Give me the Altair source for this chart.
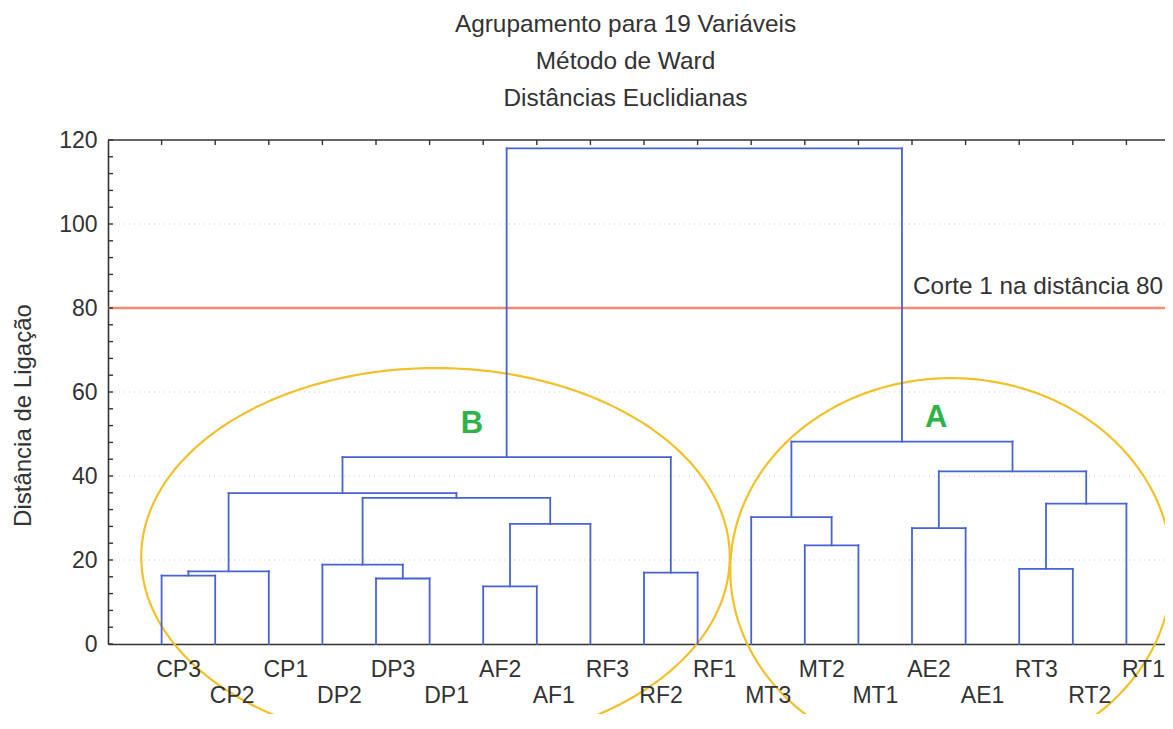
import altair as alt
import pandas as pd
import numpy as np

# ---------------- data ----------------
leaves = ["CP3", "CP2", "CP1", "DP2", "DP3", "DP1", "AF2", "AF1", "RF3", "RF2",
          "RF1", "MT3", "MT2", "MT1", "AE2", "AE1", "RT3", "RT2", "RT1"]
label_row = [0, 1, 0, 1, 0, 1, 0, 1, 0, 1, 0, 1, 0, 1, 0, 1, 0, 1, 0]  # 0 = upper, 1 = lower

# agglomeration steps: node n{k} = merge_left[k-1] + merge_right[k-1]
merge_left = ["CP3", "n1", "DP3", "DP2", "AF2", "n5", "n4", "n2", "RF2", "n8",
              "MT2", "MT3", "AE2", "RT3", "n14", "n13", "n12", "n10"]
merge_right = ["CP2", "CP1", "DP1", "n3", "AF1", "RF3", "n6", "n7", "RF1", "n9",
               "MT1", "n11", "AE1", "RT2", "RT1", "n15", "n16", "n17"]
merge_height = [16.3, 17.3, 15.6, 18.9, 13.7, 28.6, 34.8, 35.9, 17.0, 44.5,
                23.5, 30.2, 27.6, 17.9, 33.4, 41.1, 48.2, 118.0]

y_label_values = [0, 20, 40, 60, 80, 100, 120]
y_minor_ticks = list(range(0, 121, 4))
grid_values = [20, 40, 60, 80, 100]

cut_value = 80
cut_text = "Corte 1 na distância 80"
cut_text_x = 15.02

cluster_names = ["B", "A"]
cluster_label_x = [6.79, 15.45]
cluster_label_y = [52.3, 53.7]
cluster_cx = [6.11, 15.73]
cluster_rx = [5.49, 4.12]
cluster_cy = [20.7, 17.6]
cluster_ry = [45.0, 45.7]

title_lines = ["Agrupamento para 19 Variáveis", "Método de Ward", "Distâncias Euclidianas"]
y_title = "Distância de Ligação"

# ---------------- layout ----------------
W = 1057
H = 504
XMAX = 19.72
FONT = "Liberation Sans"
TXT = "#333333"
BLUE = "#4763d4"

# ---------------- build tables ----------------
pos = {name: (i + 1, 0.0) for i, name in enumerate(leaves)}
segs = []
for k, (l, r, h) in enumerate(zip(merge_left, merge_right, merge_height)):
    xl, hl = pos[l]
    xr, hr = pos[r]
    segs.append(dict(x=xl, x2=xr, y=h, y2=h))
    segs.append(dict(x=xl, x2=xl, y=hl, y2=h))
    segs.append(dict(x=xr, x2=xr, y=hr, y2=h))
    pos[f"n{k + 1}"] = ((xl + xr) / 2, h)
seg_df = pd.DataFrame(segs)

leaf_df = pd.DataFrame({"x": list(range(1, len(leaves) + 1)), "name": leaves, "row": label_row})

t = np.linspace(0, 2 * np.pi, 361)
ell_rows = []
for n, cx, rx, cy, ry in zip(cluster_names, cluster_cx, cluster_rx, cluster_cy, cluster_ry):
    for i, tt in enumerate(t):
        ell_rows.append(dict(g=n, i=i, x=cx + rx * np.cos(tt), y=cy + ry * np.sin(tt)))
ell_df = pd.DataFrame(ell_rows)

clab_df = pd.DataFrame({"name": cluster_names, "x": cluster_label_x, "y": cluster_label_y})

xscale = alt.Scale(domain=[0, XMAX], nice=False, zero=False)
yscale = alt.Scale(domain=[0, 120], nice=False, zero=False)
xaxis = alt.Axis(labels=False, ticks=False, grid=False, title=None,
                 domainColor=TXT, domainWidth=1.6)
yaxis = alt.Axis(values=y_label_values, ticks=False, grid=False, labelPadding=11,
                 labelFontSize=23, labelFont=FONT, labelColor=TXT,
                 domainColor=TXT, domainWidth=1.6,
                 title=y_title, titleFont=FONT, titleFontSize=24, titleFontWeight="normal",
                 titleColor=TXT, titleX=-85, titleY=275, titleBaseline="middle")

def X(field="x"):
    return alt.X(f"{field}:Q", scale=xscale, axis=xaxis)

def Y(field="y"):
    return alt.Y(f"{field}:Q", scale=yscale, axis=yaxis)

grid = alt.Chart(pd.DataFrame({"y": grid_values})).mark_rule(
    color="#cfcfcf", strokeWidth=1, strokeDash=[1, 4]).encode(y=Y())

cut = alt.Chart(pd.DataFrame({"y": [cut_value]})).mark_rule(
    color="#f48a72", strokeWidth=2.5).encode(y=Y())

ellipses = alt.Chart(ell_df).mark_line(color="#f3c02a", strokeWidth=2.2, clip=False).encode(
    x=X(), y=Y(), detail="g:N", order="i:Q")

dendro = alt.Chart(seg_df).mark_rule(color=BLUE, strokeWidth=1.8, strokeCap="square").encode(
    x=X(), x2="x2:Q", y=Y(), y2="y2:Q")

yticks = alt.Chart(pd.DataFrame({"y": y_minor_ticks})).mark_rule(
    color=TXT, strokeWidth=1.4).encode(y=Y(), x=alt.value(0), x2=alt.value(5))

top_frame = alt.Chart(pd.DataFrame({"y": [120]})).mark_rule(
    color=TXT, strokeWidth=1.6).encode(y=Y(), x=alt.value(0), x2=alt.value(W))

top_ticks = alt.Chart(leaf_df).mark_rule(color=TXT, strokeWidth=1.4).encode(
    x=X(), y=alt.value(0), y2=alt.value(5))

lab_up = alt.Chart(leaf_df[leaf_df.row == 0]).mark_text(
    font=FONT, fontSize=23, color=TXT, dx=17, baseline="middle", clip=False).encode(
    x=X(), y=alt.value(H + 26), text="name:N")
lab_dn = alt.Chart(leaf_df[leaf_df.row == 1]).mark_text(
    font=FONT, fontSize=23, color=TXT, dx=17, baseline="middle", clip=False).encode(
    x=X(), y=alt.value(H + 52), text="name:N")

cut_lab = alt.Chart(pd.DataFrame({"x": [cut_text_x], "y": [cut_value], "t": [cut_text]})).mark_text(
    font=FONT, fontSize=24.3, color=TXT, align="left", baseline="alphabetic", dy=-14).encode(
    x=X(), y=Y(), text="t:N")

clab = alt.Chart(clab_df).mark_text(
    font=FONT, fontSize=31, fontWeight="bold", color="#2db34a", baseline="middle").encode(
    x=X(), y=Y(), text="name:N")

chart = alt.layer(grid, cut, ellipses, dendro, yticks, top_frame, top_ticks,
                  lab_up, lab_dn, cut_lab, clab).properties(
    width=W, height=H,
    title=alt.TitleParams(text=title_lines, font=FONT, fontSize=24.4, fontWeight="normal",
                          color=TXT, lineHeight=37, anchor="middle", dx=-11, offset=18),
    autosize=alt.AutoSizeParams(type="none"),
    padding={"left": 100, "top": 132, "right": 0, "bottom": 70},
).configure_view(stroke=None)

chart.save("out.html", embed_options={"renderer": "svg", "actions": False})
